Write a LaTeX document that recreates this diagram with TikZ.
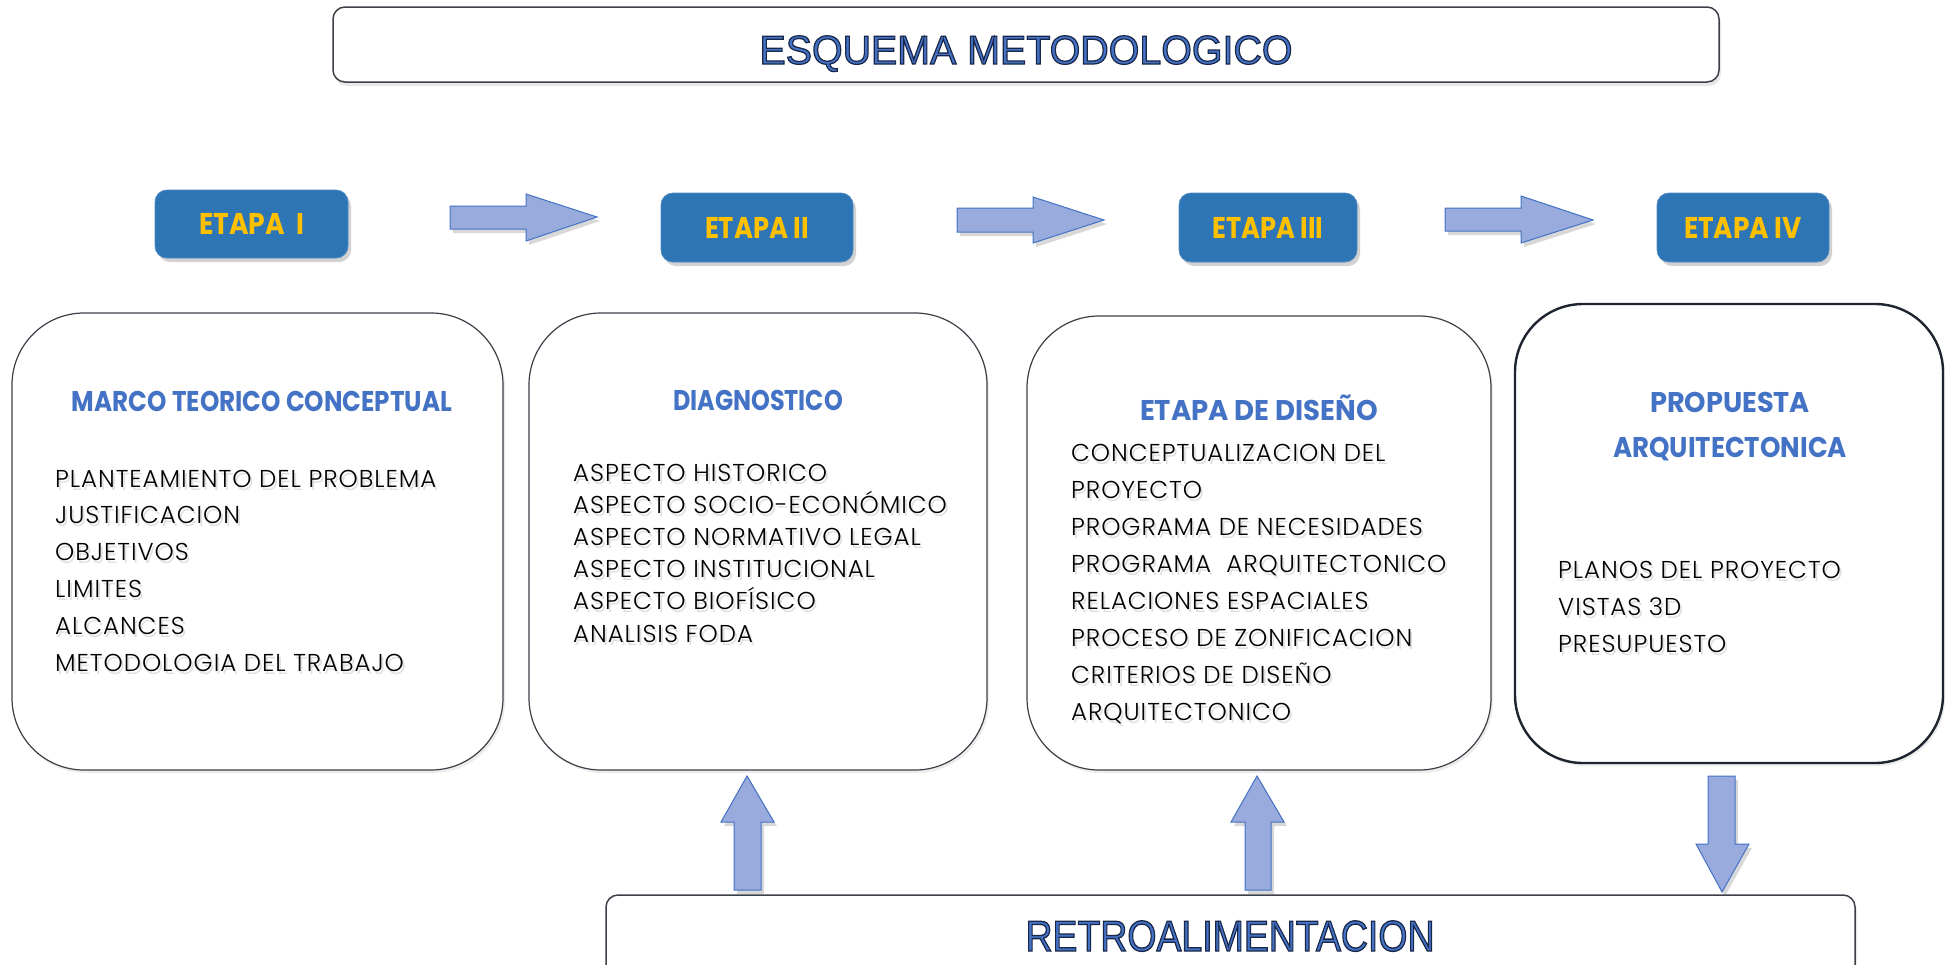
\documentclass[tikz,border=0pt]{standalone}
\usepackage{fontspec}
\usepackage{graphicx}
\setmainfont{Poppins}
\newfontfamily\lightfont{Poppins Light}[LetterSpace=4]
\newfontfamily\titlefont{Liberation Sans}[FakeBold=3]
\usetikzlibrary{shadows}
\definecolor{etapablue}{RGB}{46,117,182}
\definecolor{etapayellow}{RGB}{255,192,0}
\definecolor{titleblue}{RGB}{68,114,196}
\definecolor{boxline}{RGB}{60,64,72}
\definecolor{boxdark}{RGB}{30,36,48}
\definecolor{arrowfill}{RGB}{152,171,220}
\definecolor{arrowline}{RGB}{68,114,196}
\newcommand\txtshadow[1]{\leavevmode\rlap{\kern2pt\raisebox{-3pt}{\color{black!12}#1}}#1}
\newcommand\bigtitle[3]{\leavevmode
  \special{pdf:bcolor [0.267 0.447 0.769] [0.10 0.15 0.28]}%
  \resizebox{#1}{\height}{\titlefont\fontsize{#2}{#2}\selectfont #3}%
  \special{pdf:ecolor}}
\newcommand\boxtitle[2]{{\color{titleblue}\resizebox{#1}{\height}{\bfseries\fontsize{28.5}{30}\selectfont #2}}}
\newcommand\stagetext[2]{\resizebox{#1}{\height}{\bfseries\fontsize{30}{32}\selectfont #2}}
\tikzset{
  stagebox/.style={rectangle, rounded corners=12pt, fill=etapablue, draw=etapablue!85!white,
    line width=0.8pt, inner sep=0pt, text=etapayellow,
    drop shadow={shadow xshift=3pt, shadow yshift=-4pt, opacity=0.35}},
  bigbox/.style={rectangle, rounded corners=72pt, draw=boxline, line width=1.2pt, fill=white,
    inner sep=0pt, drop shadow={shadow xshift=2pt, shadow yshift=-3pt, opacity=0.15}},
  framebox/.style={rectangle, rounded corners=12pt, draw=boxline, line width=1.5pt, fill=white,
    inner sep=0pt, drop shadow={shadow xshift=2pt, shadow yshift=-4pt, opacity=0.18}},
  blockarrow/.style={fill=arrowfill, draw=arrowline, line width=1pt, line join=miter,
    drop shadow={shadow xshift=3pt, shadow yshift=-4pt, opacity=0.3}},
  itemtext/.style={anchor=base west, inner sep=0pt, font=\lightfont\fontsize{24.4}{28}\selectfont},
  titletext/.style={anchor=base, inner sep=0pt}
}
\begin{document}
\begin{tikzpicture}[x=1pt,y=-1pt]
\useasboundingbox (0,0) rectangle (1951,964);
\clip (0,0) rectangle (1951,964);
\fill[white] (0,0) rectangle (1951,964);

% title frame
\node[framebox, minimum width=1386pt, minimum height=75pt] (top) at (1026,44.5) {};
\node[titletext] (toptxt) at (1026,64) {\bigtitle{533pt}{40.5}{ESQUEMA METODOLOGICO}};

% stage boxes
\node[stagebox, minimum width=193pt, minimum height=68pt] (e1) at (251.5,224) {\stagetext{105pt}{ETAPA\ \ I}};
\node[stagebox, minimum width=192pt, minimum height=69pt] (e2) at (757,227.5) {\stagetext{104pt}{ETAPA II}};
\node[stagebox, minimum width=178pt, minimum height=69pt] (e3) at (1268,227.5) {\stagetext{111pt}{ETAPA III}};
\node[stagebox, minimum width=172pt, minimum height=69pt] (e4) at (1743,227.5) {\stagetext{118pt}{ETAPA IV}};

% horizontal block arrows
\filldraw[blockarrow] (450,206) -- (526,206) -- (526,194) -- (597,217) -- (526,241) -- (526,229) -- (450,229) -- cycle;
\filldraw[blockarrow] (957,208) -- (1033,208) -- (1033,197) -- (1104,220) -- (1033,243) -- (1033,232) -- (957,232) -- cycle;
\filldraw[blockarrow] (1445,208) -- (1521,208) -- (1521,196) -- (1593,220) -- (1521,243) -- (1521,231) -- (1445,231) -- cycle;

% big boxes
\node[bigbox, minimum width=491pt, minimum height=457pt] (b1) at (257.5,541.5) {};
\node[bigbox, minimum width=458pt, minimum height=457pt] (b2) at (758,541.5) {};
\node[bigbox, minimum width=464pt, minimum height=454pt] (b3) at (1259,543) {};
\node[bigbox, draw=boxdark, line width=2.4pt, rounded corners=68pt, minimum width=428pt, minimum height=459pt] (b4) at (1729,533.5) {};

% box titles
\node[titletext] (t1) at (262,411) {\boxtitle{380pt}{MARCO TEORICO CONCEPTUAL}};
\node[titletext] (t2) at (758,410) {\boxtitle{170pt}{DIAGNOSTICO}};
\node[titletext] (t3) at (1259,420) {\boxtitle{238pt}{ETAPA DE DISEÑO}};
\node[titletext] (t4a) at (1730,412) {\boxtitle{160pt}{PROPUESTA}};
\node[titletext] (t4b) at (1730,457) {\boxtitle{234pt}{ARQUITECTONICA}};

% item lists
\foreach \t [count=\i] in {PLANTEAMIENTO DEL PROBLEMA, JUSTIFICACION, OBJETIVOS, LIMITES, ALCANCES, METODOLOGIA DEL TRABAJO}
  \node[itemtext] (ia\i) at ({55},{487+36.8*(\i-1)}) {\txtshadow{\t}};
\foreach \t [count=\i] in {ASPECTO HISTORICO, ASPECTO SOCIO-ECONÓMICO, ASPECTO NORMATIVO LEGAL, ASPECTO INSTITUCIONAL, ASPECTO BIOFÍSICO, ANALISIS FODA}
  \node[itemtext] (ib\i) at ({573},{481+32.2*(\i-1)}) {\txtshadow{\t}};
\foreach \t [count=\i] in {CONCEPTUALIZACION DEL, PROYECTO, PROGRAMA DE NECESIDADES, PROGRAMA~ ARQUITECTONICO, RELACIONES ESPACIALES, PROCESO DE ZONIFICACION, CRITERIOS DE DISEÑO, ARQUITECTONICO}
  \node[itemtext] (ic\i) at ({1071},{461+37.1*(\i-1)}) {\txtshadow{\t}};
\foreach \t [count=\i] in {PLANOS DEL PROYECTO, VISTAS 3D, PRESUPUESTO}
  \node[itemtext] (id\i) at ({1558},{578+37*(\i-1)}) {\txtshadow{\t}};

% vertical block arrows
\filldraw[blockarrow] (734,890) -- (734,822) -- (721,822) -- (747,776) -- (774,822) -- (761,822) -- (761,890) -- cycle;
\filldraw[blockarrow] (1245,890) -- (1245,822) -- (1231,822) -- (1257,776) -- (1284,822) -- (1271,822) -- (1271,890) -- cycle;
\filldraw[blockarrow] (1708,776) -- (1735,776) -- (1735,844) -- (1749,844) -- (1722,892) -- (1696,844) -- (1708,844) -- cycle;

% feedback frame
\node[framebox, minimum width=1249pt, minimum height=105pt] (retro) at (1230.5,947.5) {};
\node[titletext] (retrotxt) at (1230,951) {\bigtitle{409pt}{43.3}{RETROALIMENTACION}};
\end{tikzpicture}
\end{document}
